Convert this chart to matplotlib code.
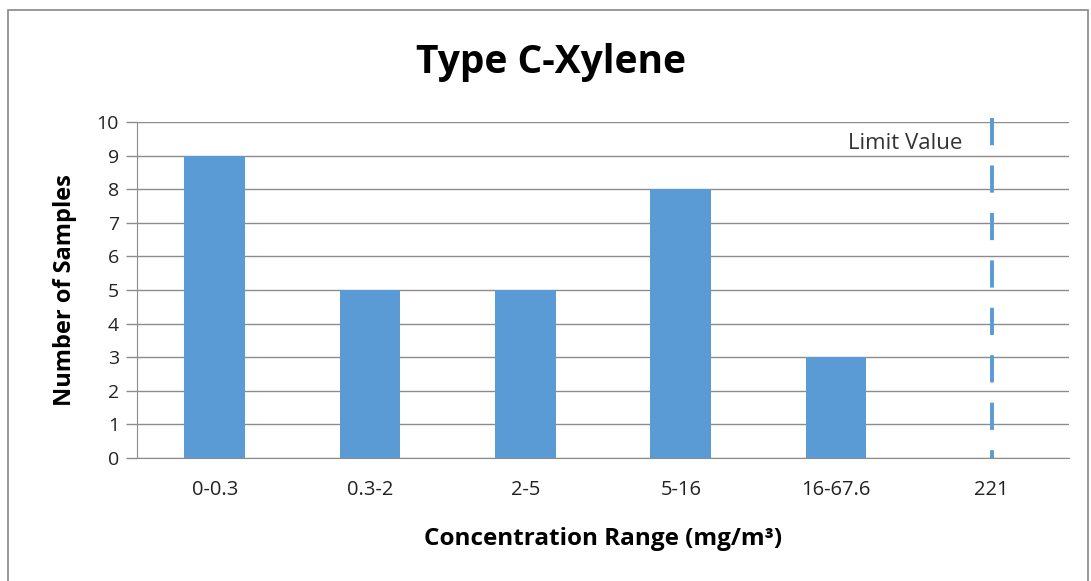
import matplotlib
matplotlib.use('Agg')
import matplotlib.pyplot as plt
from matplotlib.patches import Rectangle
import numpy as np

categories = ['0-0.3', '0.3-2', '2-5', '5-16', '16-67.6', '221']
samples = [9, 5, 5, 8, 3, 0]
limit_category = '221'
limit_label = 'Limit Value'

plt.rcParams['font.family'] = ['Open Sans', 'DejaVu Sans']

blue = '#5B9BD5'
grid_col = '#8C8C8C'

fig = plt.figure(figsize=(10.91, 5.81), dpi=100)
ax = fig.add_axes([0.1256, 0.2117, 0.8544, 0.5783])

x = np.arange(len(categories))
ax.bar(x, samples, width=0.39, color=blue, zorder=3)

ax.set_xlim(-0.5, len(categories) - 0.5)
ax.set_ylim(0, 10)
ax.set_yticks(range(0, 11))
ax.set_xticks(x)
ax.set_xticklabels(categories)
ax.tick_params(axis='x', length=0, pad=16, labelsize=14.5, colors='#222222')
ax.tick_params(axis='y', length=8, width=1, color=grid_col, pad=5, labelsize=14, labelcolor='#222222')

ax.grid(axis='y', color=grid_col, linewidth=1, zorder=0)
for s in ['top', 'right']:
    ax.spines[s].set_visible(False)
ax.spines['left'].set_color(grid_col)
ax.spines['bottom'].set_color(grid_col)

# limit line, dashes start at the top
xl = categories.index(limit_category)
ax.plot([xl, xl], [10.12, 0], color=blue, linewidth=2.8, dashes=(7, 5.2),
        clip_on=False, zorder=4)
ax.text(xl - 0.19, 9.37, limit_label, ha='right', va='center', fontsize=16, color='#333333')

fig.text(551 / 1091, 1 - 62 / 581, 'Type C-Xylene', ha='center', va='center',
         fontsize=28, fontweight='bold')
ax.set_xlabel('Concentration Range (mg/m³)', fontsize=17.5, fontweight='bold', labelpad=19)
ax.set_ylabel('Number of Samples', fontsize=17, fontweight='bold', labelpad=14)

fig.patches.append(Rectangle((8 / 1091, -0.05), (1088 - 8) / 1091, 1 - 10 / 581 + 0.05,
                             transform=fig.transFigure, fill=False, edgecolor='#888888', linewidth=1.2))

fig.savefig('out.png', dpi=100)
